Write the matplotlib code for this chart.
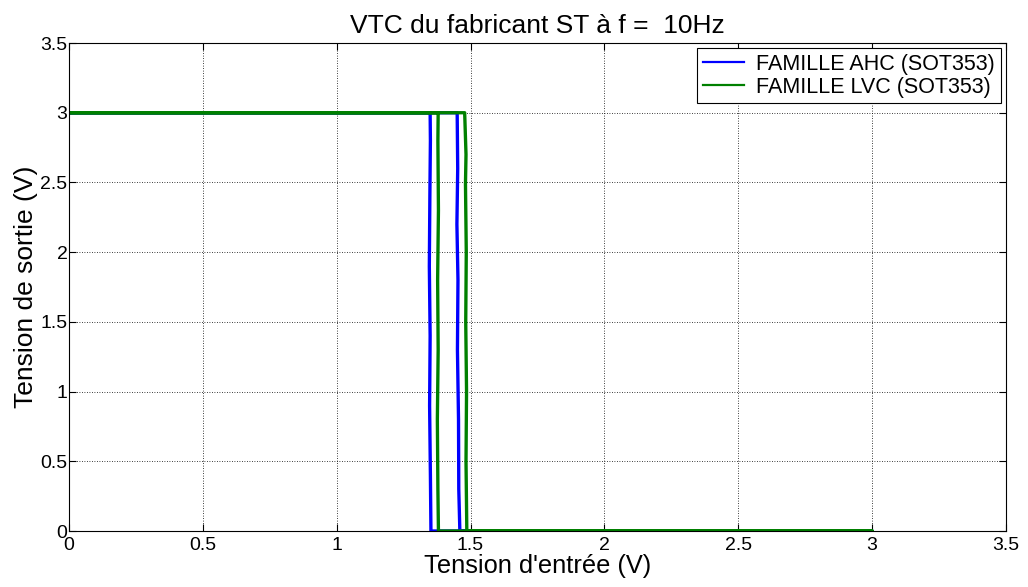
import matplotlib.pyplot as plt
from matplotlib.ticker import FormatStrFormatter

plt.rcParams['font.family'] = ['Liberation Sans', 'DejaVu Sans']

# Measured hysteresis loops (input sweep 0 -> 3 V -> 0)
ahc_vin = [0.0, 1.450, 1.452, 1.449, 1.453, 1.451, 1.455, 1.456, 1.460, 3.0,
           3.0, 1.370, 1.352, 1.350, 1.347, 1.349, 1.346, 1.348, 1.350, 1.349, 0.0]
ahc_vout = [3.0, 3.0, 2.6, 2.2, 1.8, 1.3, 0.8, 0.3, 0.0, 0.0,
            0.0, 0.0, 0.0, 0.4, 0.9, 1.4, 1.9, 2.4, 2.8, 3.0, 3.0]

lvc_vin = [0.0, 1.478, 1.483, 1.481, 1.484, 1.482, 1.485, 1.483, 1.486, 3.0,
           3.0, 1.380, 1.378, 1.376, 1.379, 1.377, 1.380, 1.378, 1.379, 0.0]
lvc_vout = [3.0, 3.0, 2.7, 2.49, 2.0, 1.5, 1.0, 0.5, 0.0, 0.0,
            0.0, 0.0, 0.3, 0.8, 1.3, 1.8, 2.3, 2.8, 3.0, 3.0]

ticks = [0, 0.5, 1, 1.5, 2, 2.5, 3, 3.5]

fig = plt.figure(figsize=(10.28, 5.87), dpi=100)
ax = fig.add_axes([0.0671, 0.0954, 0.9115, 0.8313])

ax.plot(ahc_vin, ahc_vout, color='#0000ff', lw=2.4, label='FAMILLE AHC (SOT353)')
ax.plot(lvc_vin, lvc_vout, color='#008000', lw=2.4, label='FAMILLE LVC (SOT353)')

ax.set_xlim(0, 3.5)
ax.set_ylim(0, 3.5)
ax.set_xticks(ticks)
ax.set_yticks(ticks)
ax.xaxis.set_major_formatter(FormatStrFormatter('%g'))
ax.yaxis.set_major_formatter(FormatStrFormatter('%g'))
ax.tick_params(direction='in', top=True, right=True, labelsize=14,
               length=5, width=0.8)
ax.tick_params(axis='x', pad=4)
ax.tick_params(axis='y', pad=1)
ax.grid(True, color='black', linestyle=(0, (1, 2)), linewidth=0.6)
for s in ax.spines.values():
    s.set_linewidth(0.8)

ax.set_title('VTC du fabricant ST à f =  10Hz', fontsize=19, pad=7)
ax.set_xlabel("Tension d'entrée (V)", fontsize=18.3, labelpad=0)
ax.set_ylabel('Tension de sortie (V)', fontsize=19, labelpad=2)

leg = ax.legend(loc='upper right', fontsize=15.5, fancybox=False,
                edgecolor='black', framealpha=1, borderaxespad=0.25,
                handlelength=1.9, handletextpad=0.6, borderpad=0.25,
                labelspacing=0.1)
leg.get_frame().set_linewidth(0.8)
for line in leg.get_lines():
    line.set_linewidth(1.6)

fig.savefig('out.png', dpi=100)
